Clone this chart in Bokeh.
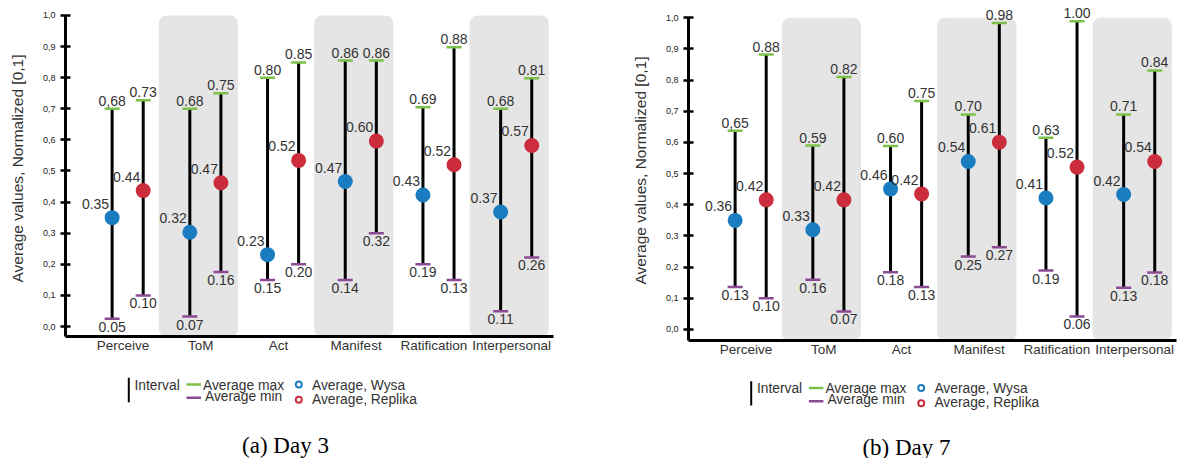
from bokeh.plotting import figure
from bokeh.layouts import row, column
from bokeh.models import Range1d, FixedTicker, BoxAnnotation
from bokeh.core.properties import value
from bokeh.embed import file_html
from bokeh.resources import INLINE

# ---------------- data ----------------
categories = ["Perceive", "ToM", "Act", "Manifest", "Ratification", "Interpersonal"]
shaded = [False, True, False, True, False, True]

y_ticks = [0.0, 0.1, 0.2, 0.3, 0.4, 0.5, 0.6, 0.7, 0.8, 0.9, 1.0]
y_tick_labels = ["0,0", "0,1", "0,2", "0,3", "0,4", "0,5", "0,6", "0,7", "0,8", "0,9", "1,0"]

# Day 3 (positions as drawn, labels as printed)
d3_wysa_max = [0.700, 0.700, 0.800, 0.855, 0.705, 0.700]
d3_wysa_min = [0.025, 0.032, 0.150, 0.150, 0.200, 0.049]
d3_wysa_avg = [0.350, 0.303, 0.231, 0.466, 0.423, 0.368]
d3_repl_max = [0.727, 0.750, 0.849, 0.855, 0.898, 0.798]
d3_repl_min = [0.100, 0.175, 0.200, 0.300, 0.150, 0.222]
d3_repl_avg = [0.437, 0.462, 0.534, 0.596, 0.520, 0.582]
d3_wysa_max_lbl = ["0,68", "0.68", "0.80", "0.86", "0.69", "0.68"]
d3_wysa_min_lbl = ["0.05", "0.07", "0.15", "0.14", "0.19", "0.11"]
d3_wysa_avg_lbl = ["0.35", "0.32", "0.23", "0.47", "0.43", "0.37"]
d3_repl_max_lbl = ["0.73", "0.75", "0.85", "0.86", "0.88", "0.81"]
d3_repl_min_lbl = ["0.10", "0.16", "0.20", "0.32", "0.13", "0.26"]
d3_repl_avg_lbl = ["0.44", "0.47", "0.52", "0.60", "0.52", "0.57"]

# Day 7
d7_wysa_max = [0.638, 0.590, 0.589, 0.690, 0.615, 0.690]
d7_wysa_min = [0.136, 0.160, 0.184, 0.234, 0.189, 0.134]
d7_wysa_avg = [0.350, 0.320, 0.451, 0.539, 0.422, 0.433]
d7_repl_max = [0.882, 0.810, 0.733, 0.983, 0.989, 0.831]
d7_repl_min = [0.100, 0.058, 0.136, 0.264, 0.042, 0.183]
d7_repl_avg = [0.416, 0.416, 0.435, 0.601, 0.521, 0.539]
d7_wysa_max_lbl = ["0,65", "0.59", "0.60", "0.70", "0.63", "0.71"]
d7_wysa_min_lbl = ["0.13", "0.16", "0.18", "0.25", "0.19", "0.13"]
d7_wysa_avg_lbl = ["0.36", "0.33", "0.46", "0.54", "0.41", "0.42"]
d7_repl_max_lbl = ["0.88", "0.82", "0.75", "0.98", "1.00", "0.84"]
d7_repl_min_lbl = ["0.10", "0.07", "0.13", "0.27", "0.06", "0.18"]
d7_repl_avg_lbl = ["0.42", "0.42", "0.42", "0.61", "0.52", "0.54"]

legend_labels = ["Interval", "Average max", "Average min", "Average, Wysa", "Average, Replika"]
captions = ["(a) Day 3", "(b) Day 7"]
y_axis_title = "Average values, Normalized [0,1]"

# ---------------- style ----------------
GREEN = "#7cbf4a"
PURPLE = "#8b4a93"
BLUE = "#1a7dc0"
RED = "#cc2d3c"
TXT = "#333333"
BAND = "#e5e5e5"
FONT = "Liberation Sans"


def chart(series, labels, y0, y1, width, height, bl, br):
    wmax, wmin, wavg, rmax, rmin, ravg = series
    lwmax, lwmin, lwavg, lrmax, lrmin, lravg = labels
    p = figure(width=width, height=height, x_range=Range1d(-0.8, 5.48),
               y_range=Range1d(y0, y1), min_border_left=bl, min_border_right=br,
               min_border_top=0, min_border_bottom=24,
               output_backend="svg", toolbar_location=None)
    p.grid.visible = False
    p.outline_line_color = None
    p.background_fill_color = "white"

    for i, s in enumerate(shaded):
        if s:
            p.add_layout(BoxAnnotation(left=i - 0.6, right=i + 0.42, bottom=y0, top=1.0,
                                       fill_color=BAND, fill_alpha=1.0, line_color=None,
                                       border_radius=8, level="underlay"))

    n = len(categories)
    wx = [i - 0.2 for i in range(n)]
    rx = [i + 0.2 for i in range(n)]

    for xs, mx, mn, av, lmx, lmn, lav, col in (
            (wx, wmax, wmin, wavg, lwmax, lwmin, lwavg, BLUE),
            (rx, rmax, rmin, ravg, lrmax, lrmin, lravg, RED)):
        p.segment(x0=xs, y0=mn, x1=xs, y1=mx, line_color="black", line_width=3)
        p.scatter(x=xs, y=mx, marker="dash", size=15, line_color=GREEN, line_width=2.5)
        p.scatter(x=xs, y=mn, marker="dash", size=15, line_color=PURPLE, line_width=2.5)
        p.scatter(x=xs, y=av, marker="circle", size=15, fill_color=col, line_color=None)
        p.text(x=xs, y=mx, text=lmx, text_font=value(FONT), text_font_size="14px",
               text_color=TXT, text_align="center", text_baseline="middle", y_offset=-8)
        p.text(x=xs, y=mn, text=lmn, text_font=value(FONT), text_font_size="14px",
               text_color=TXT, text_align="center", text_baseline="middle", y_offset=8)
        p.text(x=xs, y=av, text=lav, text_font=value(FONT), text_font_size="14px",
               text_color=TXT, text_align="right", text_baseline="middle",
               x_offset=-3, y_offset=-14)

    xt = [i - 0.06 for i in range(n)]
    p.xaxis.ticker = FixedTicker(ticks=xt)
    p.xaxis.major_label_overrides = dict(zip(xt, categories))
    p.xaxis.major_tick_in = 0
    p.xaxis.major_tick_out = 0
    p.xaxis.minor_tick_in = 0
    p.xaxis.minor_tick_out = 0
    p.xaxis.axis_line_width = 3
    p.xaxis.axis_line_color = "black"
    p.xaxis.major_label_text_font = FONT
    p.xaxis.major_label_text_font_size = "13.5px"
    p.xaxis.major_label_text_color = TXT
    p.xaxis.major_label_standoff = 1

    p.yaxis.ticker = FixedTicker(ticks=y_ticks)
    p.yaxis.major_label_overrides = dict(zip(y_ticks, y_tick_labels))
    p.yaxis.bounds = (y0, 1.0)
    p.yaxis.major_tick_in = 5
    p.yaxis.major_tick_out = 5
    p.yaxis.major_tick_line_width = 2.5
    p.yaxis.major_tick_line_color = "black"
    p.yaxis.minor_tick_in = 0
    p.yaxis.minor_tick_out = 0
    p.yaxis.axis_line_width = 3
    p.yaxis.axis_line_color = "black"
    p.yaxis.major_label_text_font = FONT
    p.yaxis.major_label_text_font_size = "9px"
    p.yaxis.major_label_text_color = "#222222"
    p.yaxis.major_label_standoff = 5
    p.yaxis.axis_label = y_axis_title
    p.yaxis.axis_label_text_font = FONT
    p.yaxis.axis_label_text_font_size = "15.5px"
    p.yaxis.axis_label_text_font_style = "normal"
    p.yaxis.axis_label_text_color = TXT
    p.yaxis.axis_label_standoff = 14
    return p


def legend(left, top, width, height, bl, br, dx, dy, caption, cap_x, cap_y):
    # frame maps page pixels directly: x from left+bl to left+width-br
    p = figure(width=width, height=height,
               x_range=Range1d(left + bl, left + width - br),
               y_range=Range1d(top + height, top),
               min_border_left=bl, min_border_right=br,
               min_border_top=0, min_border_bottom=0,
               x_axis_location=None, y_axis_location=None,
               output_backend="svg", toolbar_location=None)
    p.grid.visible = False
    p.outline_line_color = None
    p.segment(x0=[128.3 + dx], y0=[377.3 + dy], x1=[128.3 + dx], y1=[401.7 + dy],
              line_color="black", line_width=2)
    p.segment(x0=[186 + dx], y0=[384 + dy], x1=[200.5 + dx], y1=[384 + dy],
              line_color=GREEN, line_width=2.5)
    p.segment(x0=[186 + dx], y0=[397.3 + dy], x1=[200.5 + dx], y1=[397.3 + dy],
              line_color=PURPLE, line_width=2.5)
    p.scatter(x=[298.3 + dx], y=[384 + dy], size=6, marker="circle",
              fill_color="white", line_color=BLUE, line_width=2)
    p.scatter(x=[298.3 + dx], y=[399.3 + dy], size=6, marker="circle",
              fill_color="white", line_color=RED, line_width=2)
    tx = [134 + dx, 202.5 + dx, 204.5 + dx, 311.5 + dx, 311.5 + dx]
    ty = [384.5 + dy, 384.5 + dy, 396 + dy, 384.5 + dy, 398.7 + dy]
    p.text(x=tx, y=ty, text=legend_labels, text_font=value(FONT), text_font_size="13.8px",
           text_color=TXT, text_align="left", text_baseline="middle")
    p.text(x=[cap_x], y=[cap_y], text=[caption], text_font=value("Liberation Serif"),
           text_font_size="23px", text_color="black", text_align="center",
           text_baseline="middle")
    return p


pa = chart((d3_wysa_max, d3_wysa_min, d3_wysa_avg, d3_repl_max, d3_repl_min, d3_repl_avg),
           (d3_wysa_max_lbl, d3_wysa_min_lbl, d3_wysa_avg_lbl, d3_repl_max_lbl,
            d3_repl_min_lbl, d3_repl_avg_lbl),
           -0.032, 1.048, 573, 360, 65, 20)
pb = chart((d7_wysa_max, d7_wysa_min, d7_wysa_avg, d7_repl_max, d7_repl_min, d7_repl_avg),
           (d7_wysa_max_lbl, d7_wysa_min_lbl, d7_wysa_avg_lbl, d7_repl_max_lbl,
            d7_repl_min_lbl, d7_repl_avg_lbl),
           -0.0353, 1.0555, 606, 364, 115, 3)

la = legend(0, 360, 573, 98, 65, 20, 0, 0, captions[0], 285, 444.5)
lb = legend(573, 364, 606, 94, 115, 3, 622.4, 3.4, captions[1], 906, 446.5)

layout = row(column(pa, la), column(pb, lb))
open("out.html", "w").write(file_html(layout, INLINE))
